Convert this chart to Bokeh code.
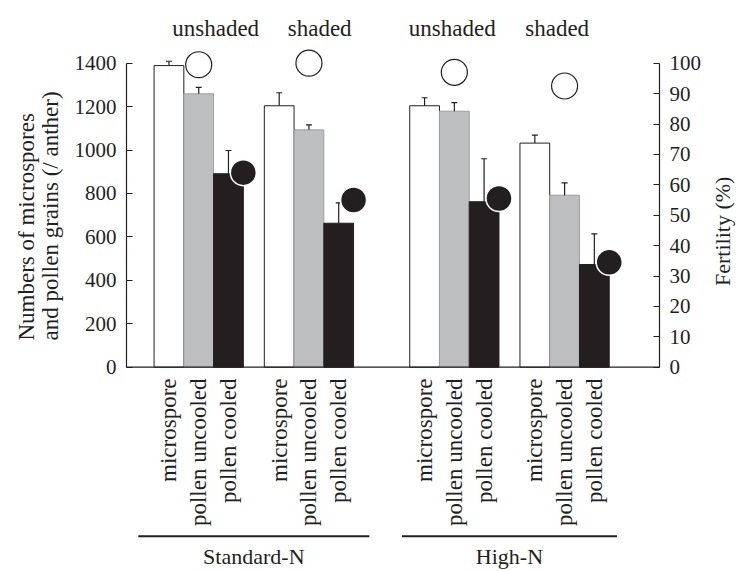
import numpy as np
from bokeh.plotting import figure
from bokeh.models import Range1d, LinearAxis, FixedTicker, Span, ColumnDataSource, Title
from bokeh.core.properties import value
from bokeh.embed import file_html
from bokeh.resources import INLINE

# ---------------- data ----------------
nitrogen = ["Standard-N", "High-N"]
shading = ["unshaded", "shaded"]
stages = ["microspore", "pollen uncooled", "pollen cooled"]

# numbers of microspores / pollen grains per anther (group order: SN-unshaded, SN-shaded, HN-unshaded, HN-shaded)
sn_unshaded = [1389, 1259, 891]
sn_shaded = [1204, 1093, 663]
hn_unshaded = [1204, 1179, 762]
hn_shaded = [1032, 792, 473]
sn_unshaded_err = [20, 30, 107]
sn_shaded_err = [60, 23, 94]
hn_unshaded_err = [37, 39, 198]
hn_shaded_err = [37, 57, 141]

# fertility (%)
fert_uncooled = [99.5, 100, 97, 92.5]
fert_cooled = [64, 55, 55.5, 34.5]

count_ticks = list(range(0, 1401, 200))
fert_ticks = list(range(0, 101, 10))

# ---------------- layout / style ----------------
DARK = "#231f20"
GRAY = "#bcbec0"
FONT = value("Liberation Serif")
W, H = 750, 571
BORDER_L, FRAME_W = 126, 541
BAR_PX = 30.2
LEFT_PAD, SUB_GAP, GROUP_GAP = 0.927, 0.705, 1.887
Y0_PX, YTOP_PX = 366.7, 62.7          # canvas px of 0 and 1400
K = 1400.0 / (Y0_PX - YTOP_PX)        # data units per px
y_end = 1400 + YTOP_PX * K
y_start = -(H - Y0_PX) * K
x_end = FRAME_W / BAR_PX

def below(px):  # data y for px below the zero line
    return -px * K

groups_vals = [sn_unshaded, sn_shaded, hn_unshaded, hn_shaded]
groups_err = [sn_unshaded_err, sn_shaded_err, hn_unshaded_err, hn_shaded_err]

starts = []
for n in range(2):
    for s in range(2):
        starts.append(LEFT_PAD + (2 * n + s) * 3 + s * SUB_GAP + n * (SUB_GAP + GROUP_GAP))

xs, tops, errs, fills, lines, labels = [], [], [], [], [], []
bar_fill = ["white", GRAY, DARK]
bar_line = [DARK, "#9d9fa2", DARK]
for g, st in enumerate(starts):
    for i in range(3):
        xs.append(st + i + 0.5)
        tops.append(groups_vals[g][i])
        errs.append(groups_err[g][i])
        fills.append(bar_fill[i])
        lines.append(bar_line[i])
        labels.append(stages[i])

p = figure(width=W, height=H, output_backend="svg", toolbar_location=None,
           x_range=Range1d(0, x_end), y_range=Range1d(y_start, y_end),
           x_axis_location=None, min_border_left=BORDER_L,
           min_border_right=W - BORDER_L - FRAME_W, min_border_top=0, min_border_bottom=0)
p.grid.visible = False
p.outline_line_color = None
p.background_fill_color = "white"

# axes
ya = p.yaxis[0]
ya.bounds = (0, 1400)
ya.ticker = FixedTicker(ticks=count_ticks)
p.extra_y_ranges = {"fert": Range1d(y_start / 14.0, y_end / 14.0)}
ra = LinearAxis(y_range_name="fert", bounds=(0, 100), ticker=FixedTicker(ticks=fert_ticks))
ra.axis_label = "Fertility (%)"
ra.axis_label_orientation = np.pi / 2
p.add_layout(ra, "right")
for ax in (ya, ra):
    ax.axis_line_color = DARK
    ax.axis_line_width = 1.2
    ax.major_tick_line_color = DARK
    ax.major_tick_line_width = 1.2
    ax.major_tick_in = 6
    ax.major_tick_out = 0
    ax.minor_tick_line_color = None
    ax.major_label_text_font = "Liberation Serif"
    ax.major_label_text_font_size = "21px"
    ax.major_label_text_color = DARK
    ax.major_label_standoff = 10
    ax.axis_label_text_font = "Liberation Serif"
    ax.axis_label_text_font_style = "normal"
    ax.axis_label_text_font_size = "22px"
    ax.axis_label_text_color = DARK
    ax.axis_label_standoff = 18

# left axis title (two lines, start-aligned near the bottom of the count axis)
p.add_layout(Title(text="Numbers of microspores\nand pollen grains (/ anther)", align="left",
                   offset=231, standoff=18, text_line_height=0.95,
                   text_font="Liberation Serif", text_font_style="normal",
                   text_font_size="23px", text_color=DARK), "left")

p.add_layout(Span(location=0, dimension="width", line_color=DARK, line_width=1.2))

src = ColumnDataSource(dict(x=xs, top=tops, err=errs, fill=fills, line=lines, label=labels,
                            etop=[t + e for t, e in zip(tops, errs)]))
p.vbar(x="x", width=1, top="top", bottom=0, fill_color="fill", line_color="line", line_width=1, source=src)
p.segment(x0="x", y0="top", x1="x", y1="etop", line_color=DARK, line_width=1.2, source=src)
src_cap = ColumnDataSource(dict(x0=[x - 0.1 for x in xs], x1=[x + 0.1 for x in xs],
                                y=[t + e for t, e in zip(tops, errs)]))
p.segment(x0="x0", y0="y", x1="x1", y1="y", line_color=DARK, line_width=1.2, source=src_cap)

# fertility circles
p.scatter(x=[st + 1.5 for st in starts], y=fert_uncooled, y_range_name="fert", size=26,
          marker="circle", fill_color="white", line_color=DARK, line_width=1.2)
p.scatter(x=[st + 3.0 for st in starts], y=fert_cooled, y_range_name="fert", size=26,
          marker="circle", fill_color=DARK, line_color="white", line_width=1.5)

# rotated category labels
p.text(x="x", y=below(11.3), text="label", source=src, angle=np.pi / 2, text_align="right",
       text_baseline="middle", text_font=FONT, text_font_size="23px", text_color=DARK)

# shading labels above
label_dx = [0.57, 0.36, -0.07, -0.25]
p.text(x=[st + 1.5 + d for st, d in zip(starts, label_dx)], y=1400 + (YTOP_PX - 28.3) * K,
       text=[shading[g % 2] for g in range(4)], text_align="center", text_baseline="alphabetic",
       text_font=FONT, text_font_size="23px", text_color=DARK)

# nitrogen group lines and labels
line_ext = [0.53, 0.26]
n_left = [starts[2 * n] - line_ext[n] for n in range(2)]
n_right = [starts[2 * n + 1] + 3 + line_ext[n] for n in range(2)]
p.segment(x0=n_left, x1=n_right, y0=below(169), y1=below(169), line_color=DARK, line_width=2)
p.text(x=[(a + b) / 2 for a, b in zip(n_left, n_right)], y=below(189.5), text=nitrogen,
       text_align="center", text_baseline="alphabetic", text_font=FONT, text_font_size="22px",
       text_color=DARK)

open("out.html", "w").write(file_html(p, INLINE))
